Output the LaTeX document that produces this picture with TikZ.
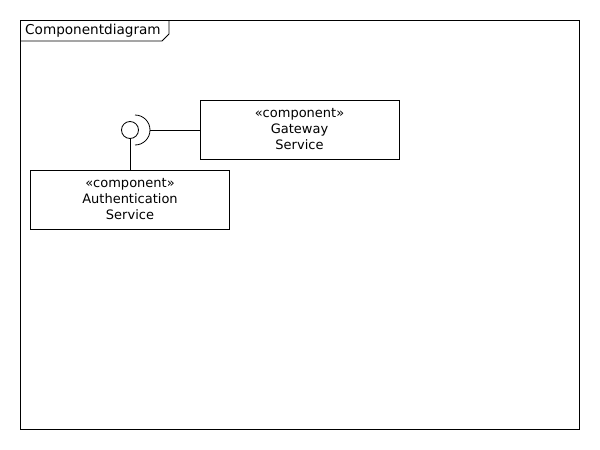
\documentclass[tikz,border=0pt]{standalone}
\usepackage{fontspec}
\setmainfont{DejaVu Sans}
\usepackage{tikz}
\usetikzlibrary{arrows.meta}
\tikzset{every node/.style={align=center}}
\tikzset{compbox/.style={draw,thick,minimum width=199pt,minimum height=59pt,inner sep=0pt,font=\fontsize{13}{16}\selectfont}}

\begin{document}
\begin{tikzpicture}[x=1pt,y=-1pt]
        \useasboundingbox (0,0) rectangle (600,450);

        % frame and its tab
        \draw[thick] (20,20) rectangle (579,429);
        \draw[thick] (20,41) -- (162,41) -- (169,34) -- (169,20);
        \node[anchor=west,inner sep=0pt,font=\fontsize{13.6}{16}\selectfont] (title) at (25,31) {Componentdiagram};

        \node[compbox] (gateway) at (299.5,129.5) {«component»\\Gateway\\Service};
        \node[compbox] (auth) at (130,199.5) {«component»\\Authentication\\Service};

        % provided interface
        \node[draw,thick,circle,minimum size=17pt,inner sep=0pt] (iface) at (130,130) {};
        % socket of gateway
        \draw[thick] (135,145) arc[start angle=-90,end angle=90,radius=15pt];
        \coordinate (socket) at (150,130);

        % auth to interface
        \draw[thick] (iface.south) -- (auth.north -| iface.south);

        % socket to gateway
        \draw[thick] (socket) -- (gateway.west |- socket);

    \end{tikzpicture}
\end{document}
